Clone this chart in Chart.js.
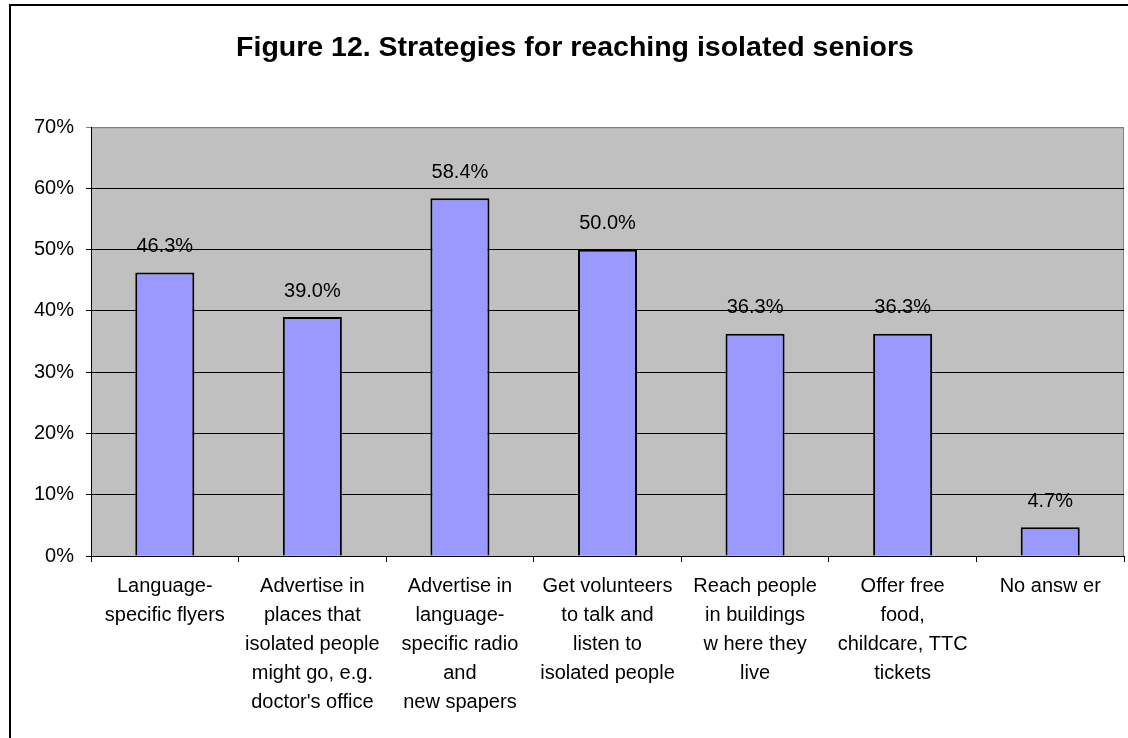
<!DOCTYPE html>
<html lang="en">
<head>
    <meta charset="UTF-8">
    <title>Figure 12</title>
    <script src="https://cdn.jsdelivr.net/npm/chart.js"></script>
    <style>
        body { margin: 0; overflow: hidden; background: #fff; }
        #wrap { position: relative; width: 1128px; height: 738px; }
        #frame { position: absolute; left: 9px; top: 4px; width: 1200px; height: 800px;
                 border-left: 2px solid #000; border-top: 2px solid #000; pointer-events: none; }
    </style>
</head>
<body>
    <div id="wrap">
        <canvas id="myChart"></canvas>
        <div id="frame"></div>
    </div>

    <script>
        const categories = [
            ['Language-', 'specific flyers'],
            ['Advertise in', 'places that', 'isolated people', 'might go, e.g.', "doctor's office"],
            ['Advertise in', 'language-', 'specific radio', 'and', 'new spapers'],
            ['Get volunteers', 'to talk and', 'listen to', 'isolated people'],
            ['Reach people', 'in buildings', 'w here they', 'live'],
            ['Offer free', 'food,', 'childcare, TTC', 'tickets'],
            ['No answ er']
        ];
        const percents = [46.3, 39.0, 58.4, 50.0, 36.3, 36.3, 4.7];
        const yTicks = [0, 10, 20, 30, 40, 50, 60, 70];

        const FONT = 'Liberation Sans, Arial, sans-serif';

        // grey plot area with a thin grey border, like the original
        const plotBg = {
            id: 'plotBg',
            beforeDraw(chart) {
                const { ctx, chartArea: a } = chart;
                ctx.save();
                ctx.fillStyle = '#C0C0C0';
                ctx.fillRect(a.left, a.top, a.right - a.left, a.bottom - a.top);
                ctx.strokeStyle = '#808080';
                ctx.lineWidth = 1;
                ctx.strokeRect(a.left + 0.5, a.top + 0.5, a.right - a.left - 1, a.bottom - a.top);
                ctx.restore();
            }
        };

        // value labels above each bar
        const valueLabels = {
            id: 'valueLabels',
            afterDatasetsDraw(chart) {
                const { ctx } = chart;
                const meta = chart.getDatasetMeta(0);
                ctx.save();
                ctx.font = '20px ' + FONT;
                ctx.fillStyle = '#000';
                ctx.textAlign = 'center';
                ctx.textBaseline = 'middle';
                meta.data.forEach((bar, i) => {
                    ctx.fillText(percents[i].toFixed(1) + '%', bar.x, bar.y - 26);
                });
                ctx.restore();
            }
        };

        const ctx = document.getElementById('myChart').getContext('2d');
        new Chart(ctx, {
            type: 'bar',
            data: {
                labels: categories,
                datasets: [{
                    data: percents,
                    backgroundColor: '#9999FF',
                    borderColor: '#000',
                    borderWidth: 2,
                    barPercentage: 0.4,
                    categoryPercentage: 1
                }]
            },
            options: {
                responsive: true,
                maintainAspectRatio: false,
                animation: false,
                layout: { padding: { left: 26, right: 4, top: 0, bottom: 0 } },
                plugins: {
                    legend: { display: false },
                    tooltip: { enabled: false },
                    title: {
                        display: true,
                        text: 'Figure 12. Strategies for reaching isolated seniors',
                        color: '#000',
                        font: { family: FONT, size: 28.5, weight: 'bold' },
                        padding: { top: 31, bottom: 62 }
                    }
                },
                scales: {
                    x: {
                        grid: { drawOnChartArea: false, color: '#000', tickLength: 6 },
                        border: { color: '#000', width: 1 },
                        ticks: {
                            color: '#000',
                            maxRotation: 0,
                            autoSkip: false,
                            padding: 10,
                            font: { family: FONT, size: 20, lineHeight: 1.45 }
                        },
                        afterFit: s => { s.height = 182; }
                    },
                    y: {
                        min: 0,
                        max: 70,
                        afterBuildTicks: s => { s.ticks = yTicks.map(v => ({ value: v })); },
                        grid: {
                            color: c => c.tick && c.tick.value === 70 ? '#808080' : '#000',
                            tickLength: 5
                        },
                        border: { color: '#000', width: 1 },
                        ticks: {
                            color: '#000',
                            padding: 12,
                            font: { family: FONT, size: 20 },
                            callback: v => v + '%'
                        },
                        afterFit: s => { s.width = 65; }
                    }
                }
            },
            plugins: [plotBg, valueLabels]
        });
    </script>
</body>
</html>
